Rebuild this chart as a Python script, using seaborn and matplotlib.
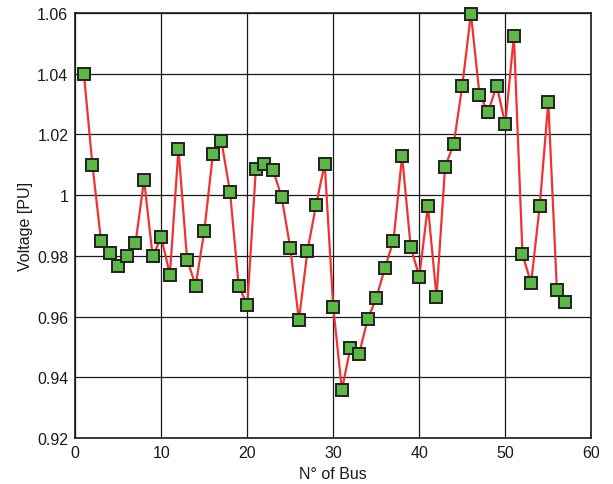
import numpy as np
import pandas as pd
import matplotlib
matplotlib.use("Agg")
import matplotlib.pyplot as plt
import seaborn as sns

bus = list(range(1, 58))
voltage = [
    1.0400, 1.0098, 0.9849, 0.9808, 0.9767, 0.9801, 0.9841, 1.0051, 0.9798, 0.9861,
    0.9738, 1.0152, 0.9788, 0.9702, 0.9882, 1.0135, 1.0177, 1.0009, 0.9702, 0.9637,
    1.0087, 1.0102, 1.0083, 0.9993, 0.9826, 0.9588, 0.9817, 0.9968, 1.0104, 0.9630,
    0.9359, 0.9498, 0.9477, 0.9591, 0.9661, 0.9760, 0.9850, 1.0129, 0.9829, 0.9732,
    0.9964, 0.9666, 1.0094, 1.0168, 1.0360, 1.0598, 1.0331, 1.0274, 1.0361, 1.0234,
    1.0524, 0.9805, 0.9710, 0.9964, 1.0307, 0.9686, 0.9648,
]
xticks = [0, 10, 20, 30, 40, 50, 60]
yticks = [0.92, 0.94, 0.96, 0.98, 1.00, 1.02, 1.04, 1.06]
yticklabels = ["0.92", "0.94", "0.96", "0.98", "1", "1.02", "1.04", "1.06"]

df = pd.DataFrame({"bus": bus, "voltage": voltage})

sns.set_style("white")
plt.rcParams['font.family'] = ['Liberation Sans', 'DejaVu Sans']

fig = plt.figure(figsize=(6.13, 4.85), dpi=100)
ax = fig.add_axes([0.1228, 0.0948, 0.9646 - 0.1228, 0.9711 - 0.0948])

sns.lineplot(data=df, x="bus", y="voltage", ax=ax, color="#f03232", linewidth=1.6,
             marker="s", markersize=8, markerfacecolor="#5bb844",
             markeredgecolor="#222222", markeredgewidth=1.4, zorder=3,
             clip_on=False)

ax.set_xlim(0, 60)
ax.set_ylim(0.92, 1.06)
ax.set_xticks(xticks)
ax.set_xticklabels([str(t) for t in xticks])
ax.set_yticks(yticks)
ax.set_yticklabels(yticklabels)
ax.grid(True, color="#1a1a1a", linewidth=0.9, linestyle="-")
ax.set_axisbelow(True)
for s in ax.spines.values():
    s.set_color("#1a1a1a")
    s.set_linewidth(1.2)
ax.tick_params(axis="both", direction="in", length=4, labelsize=11.5, colors="#1a1a1a",
               pad=5)
ax.set_xlabel("N° of Bus", fontsize=11.5, color="#1a1a1a", labelpad=4)
ax.set_ylabel("Voltage [PU]", fontsize=11.5, color="#1a1a1a", labelpad=3)

fig.savefig("out.png", dpi=100)
